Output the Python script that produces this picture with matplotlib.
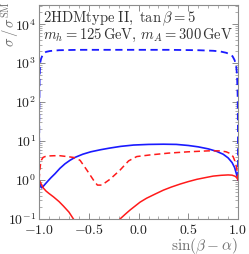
import math
import matplotlib
matplotlib.use("Agg")
import matplotlib.pyplot as plt
from matplotlib.ticker import FixedLocator, MultipleLocator, LogLocator, FuncFormatter, NullFormatter

plt.rcParams['mathtext.fontset'] = 'cm'
plt.rcParams['font.family'] = 'serif'

# blue dashed
bd_x = [-1.0, -0.998, -0.995, -0.99, -0.98, -0.97, -0.957, -0.93, -0.89, -0.8, -0.6, -0.3, 0.0, 0.3, 0.6, 0.75, 0.82, 0.88, 0.92, 0.945, 0.965, 0.98, 0.99, 0.996, 0.999, 1.0]
bd_y = [1.0, 60, 400, 1000, 1300, 1500, 1750, 1950, 2050, 2150, 2200, 2200, 2200, 2200, 2150, 2080, 2000, 1850, 1700, 1500, 1200, 900, 500, 150, 20, 1.0]

# blue solid
bs_x = [-1.0, -0.99, -0.98, -0.973, -0.96, -0.94, -0.91, -0.88, -0.84, -0.79, -0.74, -0.69, -0.64, -0.56, -0.48, -0.38, -0.29, -0.18, -0.05, 0.1, 0.25, 0.38, 0.5, 0.6, 0.7, 0.78, 0.85, 0.9, 0.94, 0.965, 0.985, 1.0]
bs_y = [1.0, 0.75, 0.65, 0.63, 0.68, 0.78, 0.95, 1.15, 1.45, 2.0, 2.6, 3.2, 3.8, 4.6, 5.3, 6.0, 6.6, 7.3, 7.9, 8.2, 8.3, 8.2, 7.7, 7.1, 6.3, 5.5, 4.6, 3.7, 2.8, 2.1, 1.4, 1.0]

# red dashed
rd_x = [-1.0, -0.993, -0.985, -0.975, -0.96, -0.94, -0.9, -0.85, -0.79, -0.72, -0.655, -0.62, -0.588, -0.52, -0.454, -0.414, -0.37, -0.286, -0.186, -0.1, -0.018, 0.115, 0.3, 0.5, 0.7, 0.82, 0.88, 0.92, 0.95, 0.97, 0.985, 0.995, 1.0]
rd_y = [1.0, 1.8, 2.6, 3.3, 3.8, 4.0, 4.15, 4.2, 4.2, 4.0, 3.8, 3.5, 3.2, 1.8, 1.0, 0.74, 0.74, 1.05, 1.8, 3.1, 4.0, 4.4, 4.9, 5.3, 5.6, 5.6, 5.3, 4.8, 4.0, 3.0, 2.1, 1.4, 1.0]

# red solid (two visible branches)
rs1_x = [-1.0, -0.99, -0.975, -0.957, -0.93, -0.9, -0.856, -0.8, -0.756, -0.7, -0.655, -0.63]
rs1_y = [1.0, 0.9, 0.75, 0.62, 0.52, 0.45, 0.37, 0.28, 0.215, 0.15, 0.10, 0.08]
rs2_x = [-0.2, -0.186, -0.13, -0.085, 0.015, 0.08, 0.17, 0.25, 0.33, 0.42, 0.5, 0.585, 0.67, 0.75, 0.83, 0.9, 0.94, 0.97, 0.987, 1.0]
rs2_y = [0.085, 0.1, 0.135, 0.17, 0.27, 0.34, 0.44, 0.55, 0.66, 0.79, 0.91, 1.04, 1.15, 1.26, 1.32, 1.35, 1.33, 1.25, 1.15, 1.0]

x_ticks = [-1.0, -0.5, 0.0, 0.5, 1.0]

blue = '#1a1aff'
red = '#ff1a1a'

fig = plt.figure(figsize=(2.49, 2.54), dpi=100)
ax = fig.add_axes([0.157, 0.138, 0.799, 0.842])

ax.plot(bd_x, bd_y, color=blue, lw=1.3, ls=(0, (4, 2.5)))
ax.plot(bs_x, bs_y, color=blue, lw=1.2)
ax.plot(rd_x, rd_y, color=red, lw=1.1, ls=(0, (4, 2.5)))
ax.plot(rs1_x, rs1_y, color=red, lw=1.1)
ax.plot(rs2_x, rs2_y, color=red, lw=1.1)

ax.set_yscale('log')
ax.set_xlim(-1.0, 1.0)
ax.set_ylim(0.1, 3.1e4)

ax.xaxis.set_major_locator(FixedLocator(x_ticks))
ax.xaxis.set_minor_locator(MultipleLocator(0.1))
ax.xaxis.set_major_formatter(FuncFormatter(lambda v, p: r'$%.1f$' % v))
ax.yaxis.set_major_locator(LogLocator(base=10, numticks=10))
ax.yaxis.set_minor_locator(LogLocator(base=10, subs=range(2, 10), numticks=20))
ax.yaxis.set_minor_formatter(NullFormatter())
ax.yaxis.set_major_formatter(FuncFormatter(lambda v, p: r'$10^{%d}$' % round(math.log10(v))))

gray = '#8c8c8c'
for s in ax.spines.values():
    s.set_color(gray)
    s.set_linewidth(0.8)
ax.tick_params(which='both', direction='in', top=True, right=True, color=gray, labelcolor='#222222', labelsize=10, pad=2)
ax.tick_params(which='major', length=4, width=0.7)
ax.tick_params(which='minor', length=2, width=0.5)
ax.tick_params(axis='x', pad=3)

fig.text(10 / 249, 0.997, r'$\sigma\,/\,\sigma^{\rm SM}$', fontsize=10.5, color='#707070',
         rotation=90, ha='center', va='top')
fig.text(238 / 249, (254 - 236) / 254, r'$\sin(\beta-\alpha)$', fontsize=11, color='#707070',
         ha='right', va='top')

ax.text(0.02, 0.978, r'$\mathrm{2HDMtype\ II},\ \tan\beta=5$', transform=ax.transAxes,
        fontsize=10.5, color='#333333', va='top', ha='left')
ax.text(0.02, 0.898, r'$m_h=125\,\mathrm{GeV},\,m_A=300\,\mathrm{GeV}$', transform=ax.transAxes,
        fontsize=10.5, color='#333333', va='top', ha='left')

fig.savefig('out.png', dpi=100)
